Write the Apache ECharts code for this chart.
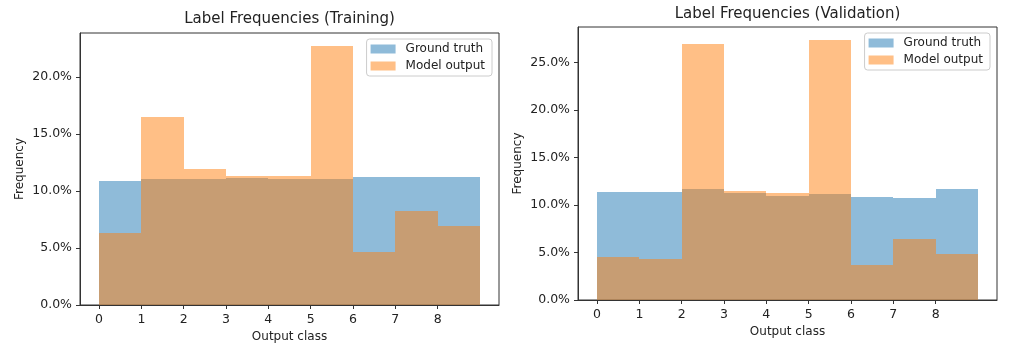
<!DOCTYPE html>
<html>
<head>
<meta charset="utf-8">
<script src="https://cdn.jsdelivr.net/npm/echarts@6/dist/echarts.min.js"></script>
<style>
html, body { margin: 0; padding: 0; background: #fff; }
#chart { width: 1015px; height: 350px; }
</style>
</head>
<body>
<div id="chart"></div>
<script>
// histogram bins: class i covers [i, i+1)
var classes = [0, 1, 2, 3, 4, 5, 6, 7, 8];
var tickLabels = ['0', '1', '2', '3', '4', '5', '6', '7', '8'];
var yTicks = [0, 5, 10, 15, 20, 25];

// frequencies in percent
var trainTruth = [10.88, 11.08, 11.08, 11.1, 11.0, 11.08, 11.23, 11.23, 11.23];
var trainModel = [6.29, 16.46, 11.9, 11.32, 11.32, 22.7, 4.68, 8.25, 6.93];
var valTruth = [11.4, 11.4, 11.64, 11.29, 10.97, 11.15, 10.87, 10.73, 11.64];
var valModel = [4.52, 4.28, 26.93, 11.5, 11.22, 27.35, 3.65, 6.38, 4.8];

var blue = 'rgba(31,119,180,0.5)';
var orange = 'rgba(255,127,14,0.5)';
var axisColor = '#333';
var textColor = '#222';
var font = 'DejaVu Sans';

function pairs(values) {
    return classes.map(function (c, i) { return [c, values[i]]; });
}

// one rectangle per bin, from bin edge c to c+1 (snapped to whole pixels so neighbours meet without seams)
function histBar(params, api) {
    var c = api.value(0);
    var top = api.coord([c, api.value(1)]);
    var bottom = api.coord([c + 1, 0]);
    var x0 = Math.round(top[0]), x1 = Math.round(bottom[0]);
    var y0 = Math.round(top[1]), y1 = Math.round(bottom[1]);
    return {
        type: 'rect',
        shape: { x: x0, y: y0, width: x1 - x0, height: y1 - y0 },
        style: api.style()
    };
}

function xAxisFor(idx) {
    return {
        gridIndex: idx,
        type: 'value',
        min: -0.45,
        max: 9.45,
        name: 'Output class',
        nameLocation: 'middle',
        nameGap: 22,
        nameTextStyle: { color: textColor, fontFamily: font, fontSize: 12 },
        splitLine: { show: false },
        axisLine: { show: true, onZero: false, lineStyle: { color: axisColor, width: 1 } },
        axisTick: { show: true, length: 4, lineStyle: { color: axisColor }, customValues: classes },
        axisLabel: {
            color: textColor, fontFamily: font, fontSize: 12.5, margin: 8,
            customValues: classes,
            formatter: function (v) { return tickLabels[Math.round(v)]; }
        }
    };
}

function yAxisFor(idx, ymax) {
    var ticks = yTicks.filter(function (t) { return t <= ymax; });
    return {
        gridIndex: idx,
        type: 'value',
        min: 0,
        max: ymax,
        name: 'Frequency',
        nameLocation: 'middle',
        nameRotate: 90,
        nameGap: 54,
        nameTextStyle: { color: textColor, fontFamily: font, fontSize: 12 },
        splitLine: { show: false },
        axisLine: { show: true, onZero: false, lineStyle: { color: axisColor, width: 1 } },
        axisTick: { show: true, length: 4, lineStyle: { color: axisColor }, customValues: ticks },
        axisLabel: {
            color: textColor, fontFamily: font, fontSize: 12.5, margin: 8,
            customValues: ticks,
            formatter: function (v) { return v.toFixed(1) + '%'; }
        }
    };
}

function histSeries(name, values, idx, color) {
    return {
        name: name,
        type: 'custom',
        xAxisIndex: idx,
        yAxisIndex: idx,
        renderItem: histBar,
        encode: { x: 0, y: 1 },
        itemStyle: { color: color },
        data: pairs(values)
    };
}

function legendFor(right, top) {
    return {
        data: ['Ground truth', 'Model output'],
        orient: 'vertical',
        right: right,
        top: top,
        icon: 'rect',
        itemWidth: 25,
        itemHeight: 9,
        itemGap: 5,
        padding: [4, 7, 4, 4],
        backgroundColor: 'rgba(255,255,255,0.8)',
        borderColor: '#ccc',
        borderWidth: 1,
        borderRadius: 3,
        textStyle: { color: textColor, fontFamily: font, fontSize: 12, padding: [0, 0, 0, 5] }
    };
}

var trainMax = Math.max.apply(null, trainTruth.concat(trainModel)) * 1.05;
var valMax = Math.max.apply(null, valTruth.concat(valModel)) * 1.05;

var myChart = echarts.init(document.getElementById('chart'));

var option = {
    animation: false,
    backgroundColor: '#fff',
    title: [
        {
            text: 'Label Frequencies (Training)',
            left: 289.5, top: 12, textAlign: 'center', padding: 0,
            textStyle: { color: textColor, fontFamily: font, fontSize: 15, fontWeight: 'normal' }
        },
        {
            text: 'Label Frequencies (Validation)',
            left: 787.5, top: 7, textAlign: 'center', padding: 0,
            textStyle: { color: textColor, fontFamily: font, fontSize: 15, fontWeight: 'normal' }
        }
    ],
    legend: [legendFor(523, 39), legendFor(25, 33)],
    grid: [
        { left: 80, top: 33, width: 419, height: 272, show: true, borderColor: axisColor, borderWidth: 1 },
        { left: 578, top: 27, width: 419, height: 273, show: true, borderColor: axisColor, borderWidth: 1 }
    ],
    xAxis: [xAxisFor(0), xAxisFor(1)],
    yAxis: [yAxisFor(0, trainMax), yAxisFor(1, valMax)],
    series: [
        histSeries('Ground truth', trainTruth, 0, blue),
        histSeries('Model output', trainModel, 0, orange),
        histSeries('Ground truth', valTruth, 1, blue),
        histSeries('Model output', valModel, 1, orange)
    ]
};

myChart.setOption(option);
</script>
</body>
</html>
